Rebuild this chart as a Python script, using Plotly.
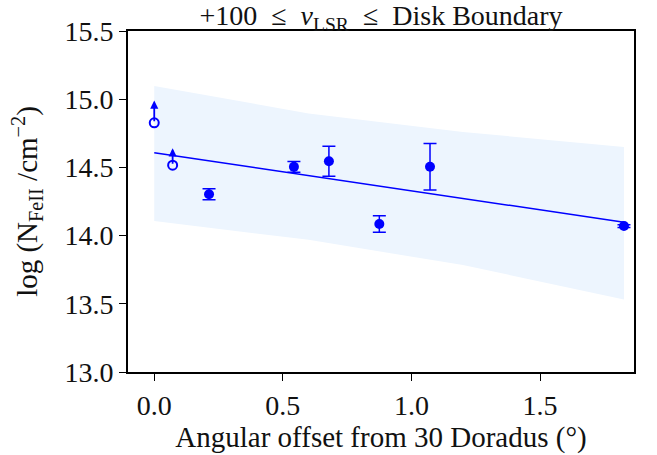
import plotly.graph_objects as go

# detections
det_x = [0.213, 0.543, 0.679, 0.875, 1.072, 1.826]
det_y = [14.303, 14.504, 14.545, 14.085, 14.505, 14.07]
det_err = [0.04, 0.04, 0.11, 0.06, 0.17, 0.01]

# lower limits
lim_x = [0.0, 0.0715]
lim_y = [14.827, 14.516]
lim_top = [14.99, 14.64]

# fit line and band
fit_x = [0.0, 1.826]
fit_y = [14.607, 14.098]
band_x = [0.0, 0.6, 1.2, 1.826]
band_upper = [15.096, 14.896, 14.76, 14.65]
band_lower = [14.107, 13.969, 13.784, 13.532]

BLUE = "#0000ff"
FONT = "Liberation Serif"
TXT = "#111"
FS_TICK = 28
FS_TITLE = 29

fig = go.Figure()

fig.add_trace(go.Scatter(
    x=band_x + band_x[::-1], y=band_upper + band_lower[::-1],
    fill="toself", fillcolor="#edf5fe", line=dict(width=0),
    mode="lines", hoverinfo="skip", showlegend=False))

fig.add_trace(go.Scatter(
    x=fit_x, y=fit_y, mode="lines",
    line=dict(color=BLUE, width=1.5), showlegend=False))

fig.add_trace(go.Scatter(
    x=det_x, y=det_y, mode="markers",
    marker=dict(color=BLUE, size=10),
    error_y=dict(type="data", array=det_err, visible=True,
                 color=BLUE, thickness=1.5, width=6.5),
    showlegend=False))

fig.add_trace(go.Scatter(
    x=lim_x, y=lim_y, mode="markers",
    marker=dict(symbol="circle-open", color=BLUE, size=9,
                line=dict(width=2, color=BLUE)),
    showlegend=False))

for xv, yv, yt in zip(lim_x, lim_y, lim_top):
    fig.add_annotation(x=xv, y=yt, ax=xv, ay=yv, axref="x", ayref="y",
                       xref="x", yref="y", text="", showarrow=True,
                       arrowhead=2, arrowsize=0.9, arrowwidth=1.8,
                       arrowcolor=BLUE, standoff=0, startstandoff=0)

axis_common = dict(
    showline=True, linecolor="black", linewidth=2, mirror=True,
    ticks="outside", ticklen=7, tickwidth=1.2, tickcolor="black",
    showgrid=False, zeroline=False, automargin=False,
    tickfont=dict(family=FONT, size=FS_TICK, color=TXT),
)

fig.update_xaxes(range=[-0.102, 1.865], tickvals=[0, 0.5, 1.0, 1.5],
                 ticktext=["0.0", "0.5", "1.0", "1.5"],
                 title=dict(text="Angular offset from 30 Doradus (°)",
                            font=dict(family=FONT, size=FS_TITLE, color=TXT),
                            standoff=0),
                 **axis_common)
fig.update_yaxes(range=[13.0, 15.5],
                 tickvals=[13.0, 13.5, 14.0, 14.5, 15.0, 15.5],
                 ticktext=["13.0", "13.5", "14.0", "14.5", "15.0", "15.5"],
                 title=dict(text="log (N<sub>FeII</sub> /cm<sup>−2</sup>)",
                            font=dict(family=FONT, size=FS_TITLE, color=TXT),
                            standoff=18),
                 **axis_common)

fig.update_layout(
    width=657, height=455,
    margin=dict(l=128, r=23, t=31, b=83),
    plot_bgcolor="white", paper_bgcolor="white",
    title=dict(text="+100  ≤  <i>v</i><sub>LSR</sub>  ≤  Disk Boundary",
               font=dict(family=FONT, size=28, color=TXT),
               x=0.5 + (128 - 23) / 2 / 657, xanchor="center",
               y=1 - 15 / 455, yanchor="middle"),
)

fig.write_html("out.html", config={"displayModeBar": False},
               post_script="document.body.style.margin='0';")
